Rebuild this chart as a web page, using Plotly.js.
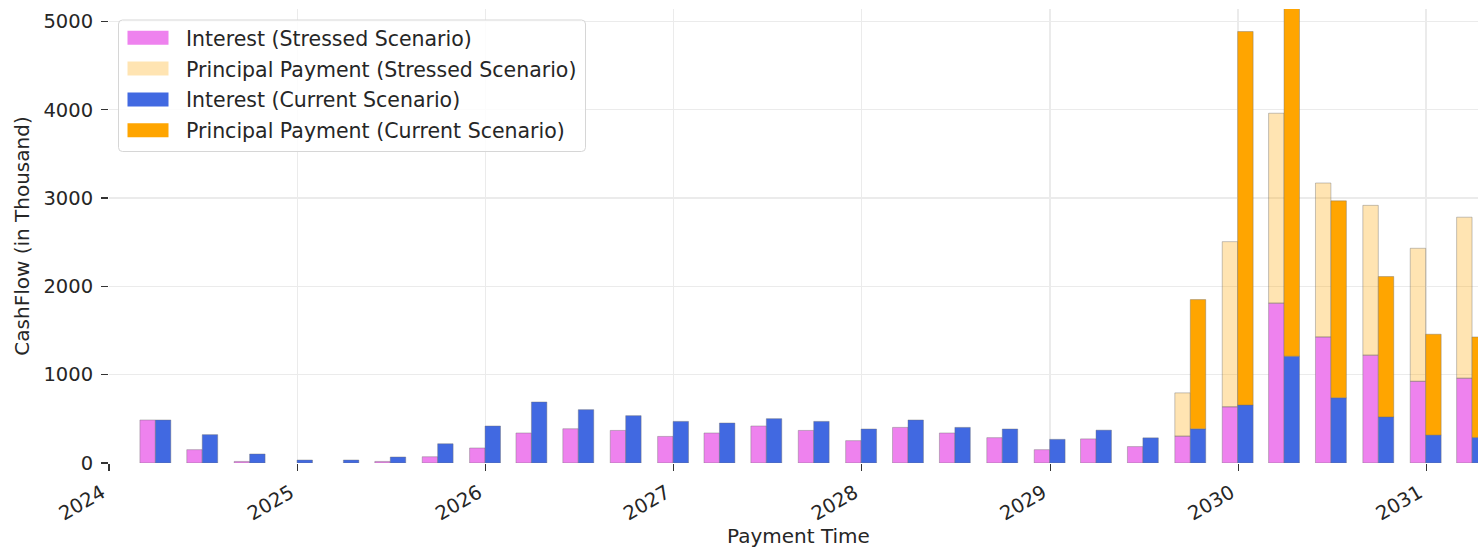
<!DOCTYPE html>
<html>
<head>
<meta charset="utf-8">
<script src="https://cdn.plot.ly/plotly-3.0.1.min.js"></script>
<style>
  html, body { margin: 0; padding: 0; overflow: hidden; background: #fff; }
  #chart { width: 1487px; height: 548px; }
</style>
</head>
<body>
<div id="chart"></div>
<script>
// ---- data (in thousand) ----
const paymentDates = ['2024-03-31','2024-06-30','2024-09-30','2024-12-31','2025-03-31','2025-06-30','2025-09-30','2025-12-31',
  '2026-03-31','2026-06-30','2026-09-30','2026-12-31','2027-03-31','2027-06-30','2027-09-30','2027-12-31',
  '2028-03-31','2028-06-30','2028-09-30','2028-12-31','2029-03-31','2029-06-30','2029-09-30','2029-12-31',
  '2030-03-31','2030-06-30','2030-09-30','2030-12-31','2031-03-31'];
const stressedInterest  = [487,151,18,0,0,18,71,170,340,388,369,301,340,419,369,253,403,340,287,151,273,186,304,636,1810,1427,1221,925,960];
const stressedPrincipal = [0,0,0,0,0,0,0,0,0,0,0,0,0,0,0,0,0,0,0,0,0,0,490,1870,2150,1743,1696,1506,1823];
const currentInterest   = [487,321,102,34,34,68,218,419,691,604,536,471,453,502,471,385,487,403,385,268,372,285,387,656,1209,739,522,316,289];
const currentPrincipal  = [0,0,0,0,0,0,0,0,0,0,0,0,0,0,0,0,0,0,0,0,0,0,1463,4229,3991,2229,1589,1142,1138];
const yTicks = [0,1000,2000,3000,4000,5000];
const seriesNames = ['Interest (Stressed Scenario)','Principal Payment (Stressed Scenario)','Interest (Current Scenario)','Principal Payment (Current Scenario)'];
const seriesColors = ['#EE82EE','rgba(255,165,0,0.3)','#4169E1','#FFA500'];
const xTitle = 'Payment Time';
const yTitle = 'CashFlow (in Thousand)';

// ---- layout constants ----
const W = 1487, H = 548;
const ML = 109, MR = 0, MT = 9, MB = 85;
const PW = W - ML - MR, PH = H - MT - MB;
const DAY = 86400000;
const BAR_W = 30 * DAY;
const FONT = 'DejaVu Sans, sans-serif';
const edgeFor = vals => ({color: 'rgba(110,110,110,0.5)', width: vals.map(v => v > 0 ? 0.8 : 0)});

const traces = [
  {type:'bar', name: seriesNames[0], x: paymentDates, y: stressedInterest, offset: -BAR_W, width: BAR_W,
   marker:{color: seriesColors[0], line: edgeFor(stressedInterest)}},
  {type:'bar', name: seriesNames[1], x: paymentDates, y: stressedPrincipal, base: stressedInterest, offset: -BAR_W, width: BAR_W,
   marker:{color: seriesColors[1], line: edgeFor(stressedPrincipal)}},
  {type:'bar', name: seriesNames[2], x: paymentDates, y: currentInterest, offset: 0, width: BAR_W,
   marker:{color: seriesColors[2], line: edgeFor(currentInterest)}},
  {type:'bar', name: seriesNames[3], x: paymentDates, y: currentPrincipal, base: currentInterest, offset: 0, width: BAR_W,
   marker:{color: seriesColors[3], line: edgeFor(currentPrincipal)}}
];

// manual legend (matplotlib style)
const X = px => (px - ML) / PW;
const Y = py => (H - MB - py) / PH;
const shapes = [];
const annotations = [];
{
  const x0 = 118.5, x1 = 585.5, y0 = 20, y1 = 151.5, r = 4;
  const rx = r / PW, ry = r / PH;
  const a = X(x0), b = X(x1), c = Y(y0), d = Y(y1);
  shapes.push({type:'path', xref:'paper', yref:'paper', layer:'above',
    path: `M ${a+rx},${c} L ${b-rx},${c} Q ${b},${c} ${b},${c-ry} L ${b},${d+ry} Q ${b},${d} ${b-rx},${d} L ${a+rx},${d} Q ${a},${d} ${a},${d+ry} L ${a},${c-ry} Q ${a},${c} ${a+rx},${c} Z`,
    fillcolor:'rgba(255,255,255,0.85)', line:{color:'#d6d6d6', width:1}});
  const rowCenters = [37.8, 68.6, 99.4, 130.2];
  seriesNames.forEach((nm, i) => {
    const cy = rowCenters[i];
    shapes.push({type:'rect', xref:'paper', yref:'paper', layer:'above',
      x0: X(127.5), x1: X(168.5), y0: Y(cy - 7), y1: Y(cy + 7),
      fillcolor: seriesColors[i], line:{width:0}});
    annotations.push({xref:'paper', yref:'paper', x: X(183.5), y: Y(cy + 1), xanchor:'left', yanchor:'middle',
      text: nm, showarrow:false, font:{family: FONT, size: 20.5, color:'#262626'}});
  });
  // x-axis title, kept fully inside the picture
  annotations.push({xref:'paper', yref:'paper', x: 0.5, y: Y(536), xanchor:'center', yanchor:'middle',
    text: xTitle, showarrow:false, font:{family: FONT, size: 20, color:'#262626'}});
}

const layout = {
  width: W, height: H,
  margin: {l: ML, r: MR, t: MT, b: MB, pad: 0},
  paper_bgcolor: '#fff', plot_bgcolor: '#fff',
  barmode: 'overlay',
  showlegend: false,
  font: {family: FONT, color: '#262626', size: 19.5},
  xaxis: {
    type: 'date', range: ['2024-01-01', '2031-04-29'],
    tick0: '2024-01-01', dtick: 'M12', tickformat: '%Y', tickangle: -30,
    ticks: 'outside', ticklen: 7, tickwidth: 1.2, tickcolor: '#333',
    showgrid: true, gridcolor: '#ebebeb', gridwidth: 1.5,
    showline: false, zeroline: false,
    tickfont: {family: FONT, size: 19.5, color: '#262626'},
    ticklabelshift: -7, ticklabelstandoff: 3,
    automargin: false
  },
  yaxis: {
    range: [0, 5140], tickvals: yTicks, ticktext: yTicks.map(String),
    ticks: 'outside', ticklen: 7, tickwidth: 1.2, tickcolor: '#333',
    showgrid: true, gridcolor: '#ebebeb', gridwidth: 1.5,
    showline: false, zeroline: false,
    tickfont: {family: FONT, size: 19.5, color: '#262626'},
    ticklabelstandoff: 4,
    title: {text: yTitle, font: {family: FONT, size: 20, color: '#262626'}, standoff: 8},
    automargin: false
  },
  shapes: shapes,
  annotations: annotations
};

Plotly.newPlot('chart', traces, layout, {displayModeBar: false, staticPlot: true});
</script>
</body>
</html>
